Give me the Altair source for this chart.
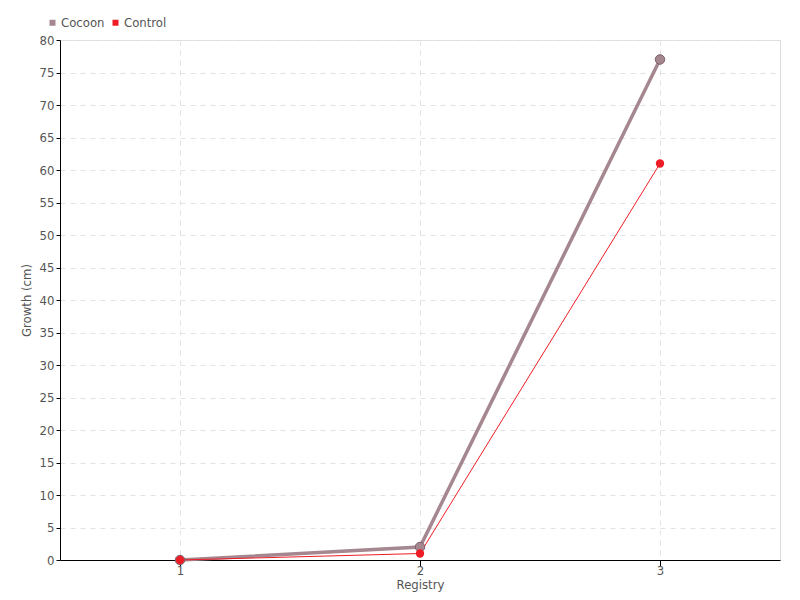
import altair as alt
import pandas as pd

registry = [1, 2, 3]
cocoon = [0, 2, 77]
control = [0, 1, 61]
series_names = ["Cocoon", "Control"]
colors = ["#a5878f", "#ee1c25"]

df = pd.DataFrame({
    "Registry": registry * 2,
    "Growth": cocoon + control,
    "Series": ["Cocoon"] * 3 + ["Control"] * 3,
})

FONT = "'Liberation Sans Narrow', 'DejaVu Sans Condensed', 'Noto Sans', sans-serif"

x = alt.X("Registry:Q", title="Registry",
          scale=alt.Scale(domain=[0.5, 3.5], nice=False, zero=False),
          axis=alt.Axis(values=registry, format="d", grid=True, gridDash=[5, 5],
                        gridColor="#e2e2e2", domainColor="#000", tickColor="#000",
                        tickSize=6, labelColor="#555", labelFontSize=13, labelPadding=-2,
                        titleColor="#555", titleFontSize=13, titleFontWeight="normal",
                        titlePadding=1, labelFont=FONT, titleFont=FONT))
y = alt.Y("Growth:Q", title="Growth (cm)",
          scale=alt.Scale(domain=[0, 80], nice=False),
          axis=alt.Axis(values=list(range(0, 81, 5)), grid=True, gridDash=[5, 5],
                        gridColor="#e2e2e2", domainColor="#000", tickColor="#000",
                        tickSize=4, labelColor="#555", labelFontSize=13, labelPadding=2,
                        titleColor="#555", titleFontSize=13, titleFontWeight="normal",
                        titlePadding=6, labelFont=FONT, titleFont=FONT))
color = alt.Color("Series:N", scale=alt.Scale(domain=series_names, range=colors),
                  legend=alt.Legend(orient="none", legendX=-14, legendY=-24, direction="horizontal",
                                    title=None, symbolType="square", symbolSize=36,
                                    labelFont=FONT, labelFontSize=13, labelColor="#555",
                                    columnPadding=4, symbolStrokeWidth=0, labelOffset=2))

base = alt.Chart(df)

cocoon_line = base.transform_filter(alt.datum.Series == "Cocoon").mark_line(
    strokeWidth=3.5, color="#a5878f").encode(x=x, y=y)
control_line = base.transform_filter(alt.datum.Series == "Control").mark_line(
    strokeWidth=1, color="#ee1c25").encode(x=x, y=y)
cocoon_pts = base.transform_filter(alt.datum.Series == "Cocoon").mark_point(
    filled=True, size=90, opacity=1, stroke="#7a5f66", strokeWidth=1).encode(x=x, y=y, color=color)
control_pts = base.transform_filter(alt.datum.Series == "Control").mark_point(
    filled=True, size=70, opacity=1).encode(x=x, y=y, color=color)

chart = alt.layer(cocoon_line, control_line, cocoon_pts, control_pts).properties(
    width=720, height=520,
    autosize=alt.AutoSizeParams(type="none"),
    padding={"left": 52, "top": 32, "right": 12, "bottom": 40},
).configure_view(stroke=None).configure(font=FONT)

chart.save("out.html", embed_options={"renderer": "svg", "actions": False})
